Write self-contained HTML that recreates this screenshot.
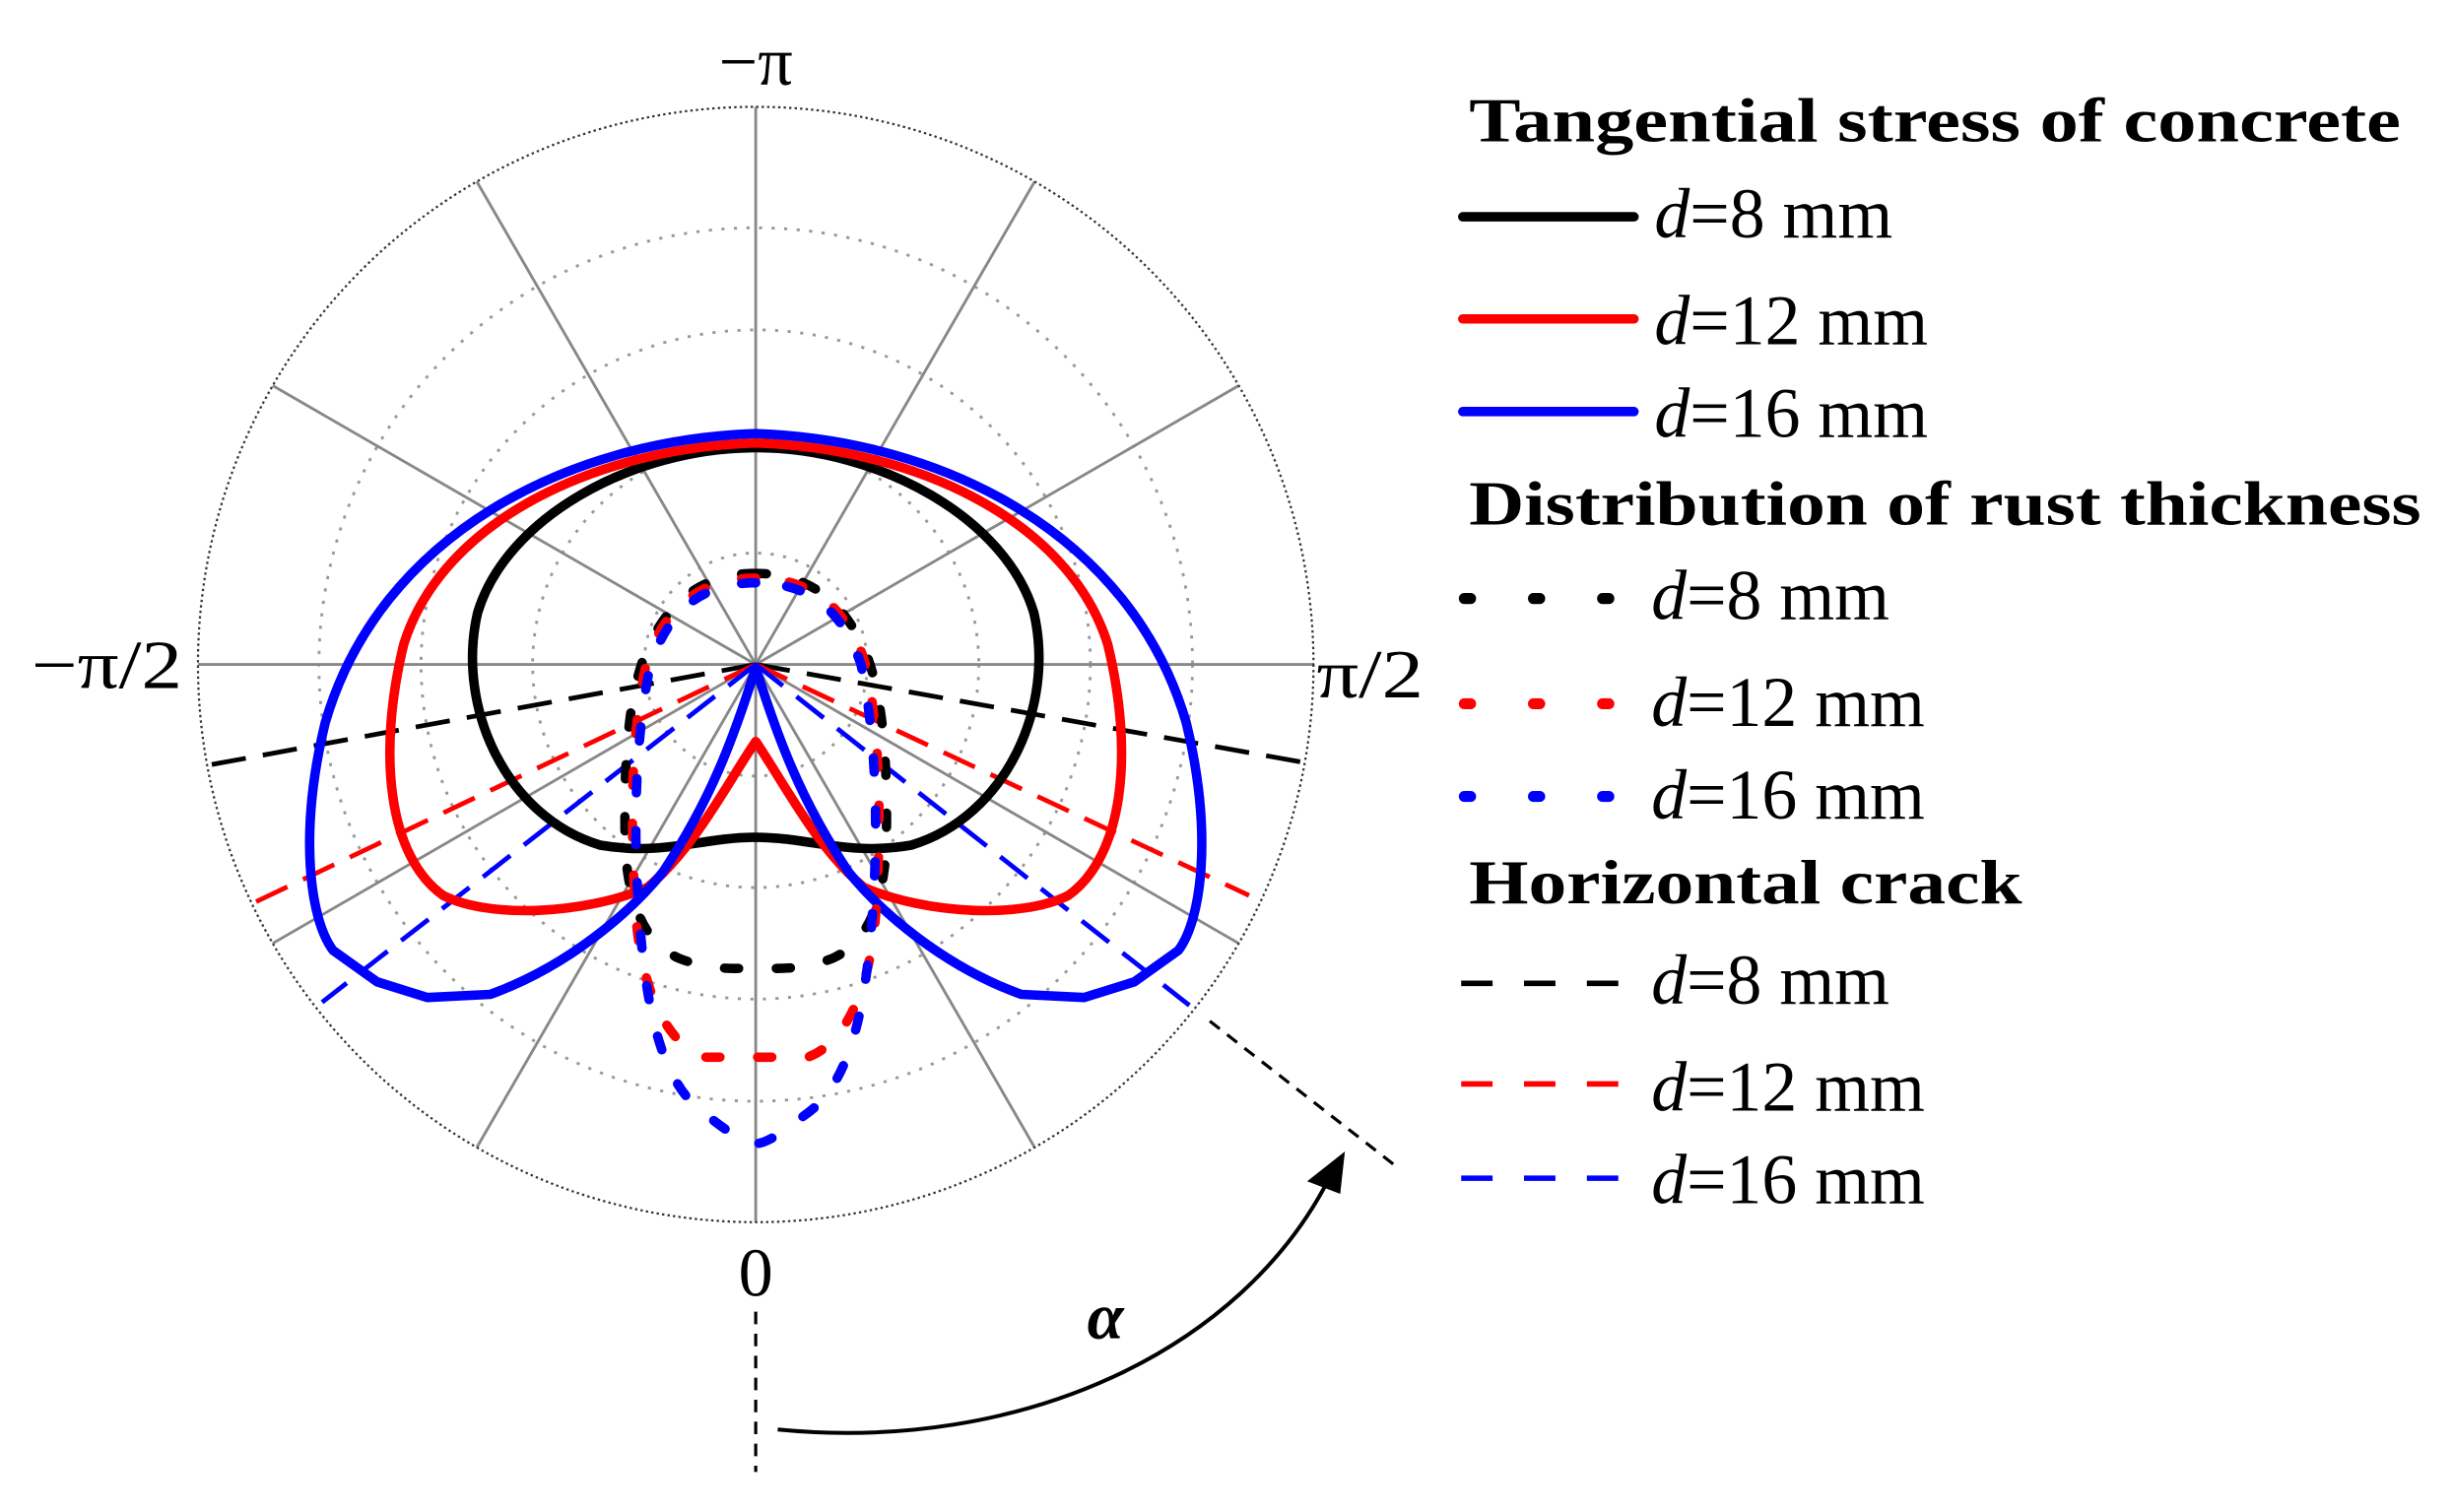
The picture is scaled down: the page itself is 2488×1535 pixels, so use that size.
<!DOCTYPE html>
<html><head><meta charset="utf-8"><style>html,body{margin:0;padding:0;background:#fff}svg{display:block}</style></head>
<body>
<svg width="2488" height="1535" viewBox="0 0 1560 962.5" preserveAspectRatio="none" xmlns="http://www.w3.org/2000/svg" font-family="Liberation Serif, serif">
<rect width="1560" height="963" fill="#fff"/>
<g stroke="#999" stroke-width="1.8" fill="none" stroke-dasharray="2 6">
<circle cx="481" cy="423" r="71"/><circle cx="481" cy="423" r="142"/><circle cx="481" cy="423" r="213"/><circle cx="481" cy="423" r="278"/>
</g>
<g stroke="#888" stroke-width="1.8">
<line x1="126" y1="423" x2="836" y2="423"/>
<line x1="481" y1="68" x2="481" y2="778"/>
<line x1="303.5" y1="115.6" x2="658.5" y2="730.4"/>
<line x1="658.5" y1="115.6" x2="303.5" y2="730.4"/>
<line x1="173.6" y1="245.5" x2="788.4" y2="600.5"/>
<line x1="788.4" y1="245.5" x2="173.6" y2="600.5"/>
</g>
<circle cx="481" cy="423" r="355" fill="none" stroke="#333" stroke-width="1.4" stroke-dasharray="1.5 2"/>
<g font-size="44" fill="#000">
<text x="481" y="54" text-anchor="middle">−π</text>
<text x="20" y="438" textLength="96" lengthAdjust="spacingAndGlyphs">−π/2</text>
<text x="838" y="444" textLength="68" lengthAdjust="spacingAndGlyphs">π/2</text>
<text x="481" y="825" text-anchor="middle">0</text>
</g>
<g stroke-width="3" stroke-dasharray="22 11" fill="none">
<path d="M481,423 L133,487 M481,423 L828,485" stroke="#000"/>
<path d="M481,423 L163,574 M481,423 L795,570" stroke="#f00"/>
<path d="M481,423 L205,638 M481,423 L757,640" stroke="#00f"/>
</g>
<g fill="none" stroke-width="6" stroke-linejoin="round">
<path stroke="#000" d="M481,285 C560,285 640,330 658,390 C672,450 640,520 580,538 C540,545 515,533 481,533 C447,533 422,545 382,538 C322,520 290,450 304,390 C322,330 402,285 481,285 Z"/>
<path stroke="#f00" d="M481,282 C580,285 680,330 705,410 C722,480 715,545 680,570 C650,585 590,582 550,565 C520,540 500,500 481,472 C462,500 442,540 412,565 C372,582 312,585 282,570 C247,545 240,480 257,410 C282,330 382,285 481,282 Z"/>
<path stroke="#00f" d="M481,276 C600,280 720,340 755,460 C772,530 765,585 750,605 L722,625 L690,635 L650,633 C600,615 560,580 540,555 C510,510 495,470 481,425 C467,470 452,510 422,555 C402,580 362,615 312,633 L272,635 L240,625 L212,605 C197,585 190,530 207,460 C242,340 362,280 481,276 Z"/>
</g>
<g fill="none" stroke-width="6" stroke-dasharray="9 24" stroke-linecap="round">
<path stroke="#000" d="M481,365 C450,365 425,380 410,418 C398,450 397,500 398,540 C400,575 410,600 432,610 C450,617 465,617 481,616 C497,617 512,617 530,610 C552,600 562,575 564,540 C565,500 564,450 552,418 C537,380 512,365 481,365"/>
<path stroke="#f00" d="M481,368 C450,368 425,382 412,420 C402,460 401,520 404,570 C406,630 425,665 448,673 L514,673 C537,665 556,630 558,570 C561,520 560,460 550,420 C537,382 512,368 481,368"/>
<path stroke="#00f" d="M481,371 C450,371 427,385 414,423 C405,465 403,520 406,570 C410,640 420,690 450,710 C465,722 475,728 481,728 C487,728 497,722 512,710 C542,690 552,640 556,570 C559,520 557,465 548,423 C535,385 512,371 481,371"/>
</g>
<g stroke="#000" stroke-width="2" fill="none">
<line x1="770" y1="650" x2="888" y2="742" stroke-dasharray="8 6"/>
<line x1="481" y1="835" x2="481" y2="937" stroke-dasharray="8 6"/>
<path d="M495,910 C650,925 790,860 846,750" stroke-width="2.5"/>
</g>
<polygon points="856,733 832,752 853,760" fill="#000"/>
<text x="692" y="852" font-size="42" font-weight="bold" font-style="italic">α</text>
<g font-size="40" fill="#000">
<text x="935" y="90" font-weight="bold" textLength="593" lengthAdjust="spacingAndGlyphs">Tangential stress of concrete</text>
<text x="935" y="334" font-weight="bold" textLength="606" lengthAdjust="spacingAndGlyphs">Distribution of rust thickness</text>
<text x="935" y="575" font-weight="bold" textLength="352" lengthAdjust="spacingAndGlyphs">Horizontal crack</text>
</g>
<g font-size="45" fill="#000">
<text x="1053" y="151"><tspan font-style="italic">d</tspan>=8 mm</text>
<text x="1053" y="219"><tspan font-style="italic">d</tspan>=12 mm</text>
<text x="1053" y="278"><tspan font-style="italic">d</tspan>=16 mm</text>
<text x="1051" y="394"><tspan font-style="italic">d</tspan>=8 mm</text>
<text x="1051" y="462"><tspan font-style="italic">d</tspan>=12 mm</text>
<text x="1051" y="521"><tspan font-style="italic">d</tspan>=16 mm</text>
<text x="1051" y="639"><tspan font-style="italic">d</tspan>=8 mm</text>
<text x="1051" y="707"><tspan font-style="italic">d</tspan>=12 mm</text>
<text x="1051" y="766"><tspan font-style="italic">d</tspan>=16 mm</text>
</g>
<g stroke-width="6" stroke-linecap="round">
<line x1="931" y1="138" x2="1040" y2="138" stroke="#000"/>
<line x1="931" y1="203" x2="1040" y2="203" stroke="#f00"/>
<line x1="931" y1="262" x2="1040" y2="262" stroke="#00f"/>
</g>
<g stroke-width="7" stroke-linecap="round" stroke-dasharray="4 40">
<line x1="932" y1="381" x2="1040" y2="381" stroke="#000"/>
<line x1="932" y1="448" x2="1040" y2="448" stroke="#f00"/>
<line x1="932" y1="507" x2="1040" y2="507" stroke="#00f"/>
</g>
<g stroke-width="3.5" stroke-dasharray="20 20">
<line x1="930" y1="626" x2="1045" y2="626" stroke="#000"/>
<line x1="930" y1="690" x2="1045" y2="690" stroke="#f00"/>
<line x1="930" y1="750" x2="1045" y2="750" stroke="#00f"/>
</g>
</svg>
</body></html>
